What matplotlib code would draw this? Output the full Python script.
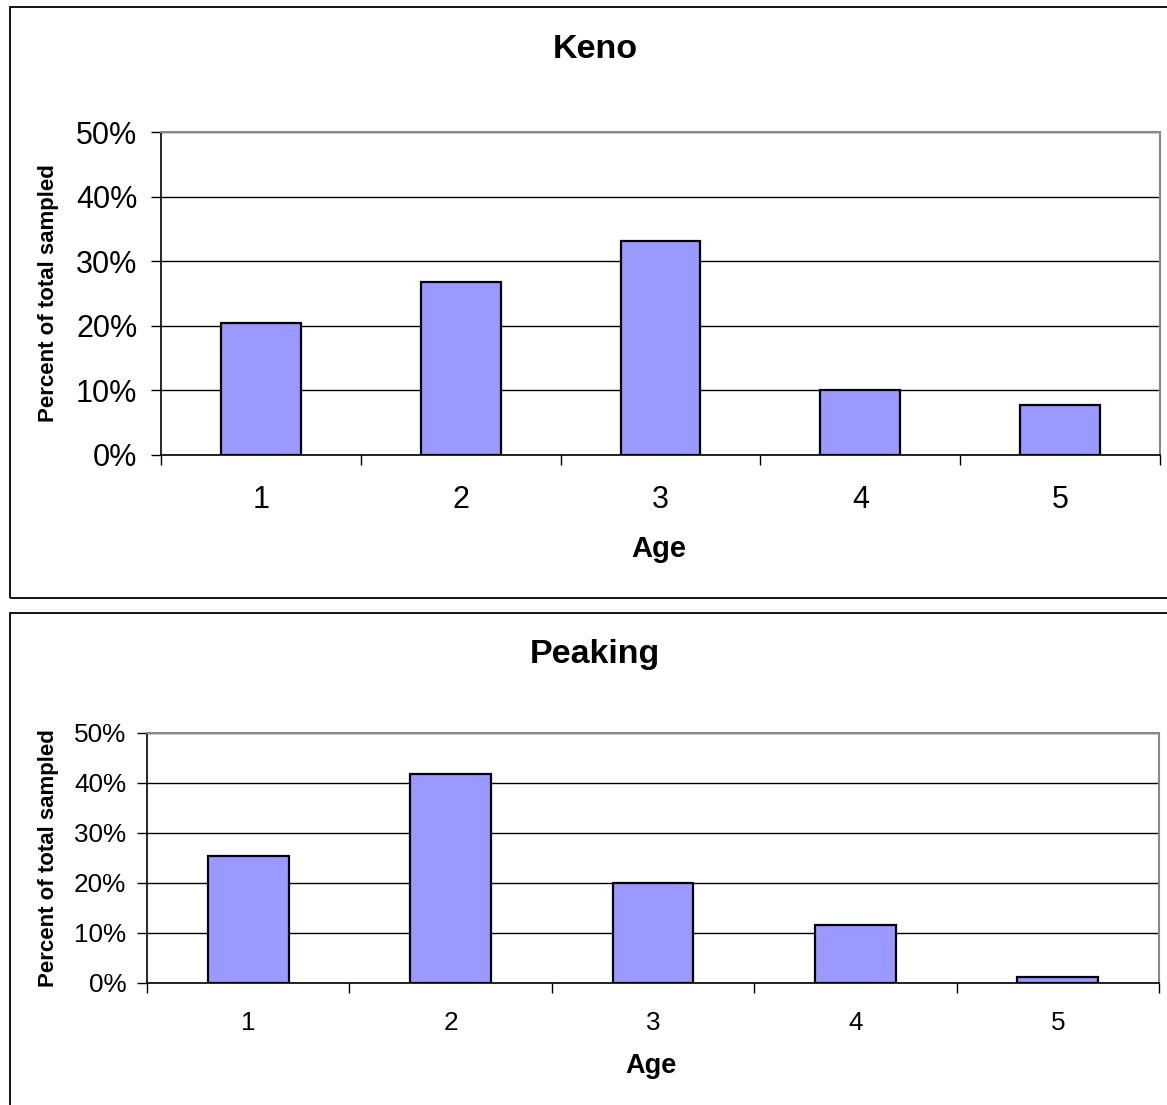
import matplotlib
matplotlib.use("Agg")
import matplotlib.pyplot as plt
from matplotlib.patches import Rectangle
from matplotlib.ticker import PercentFormatter

plt.rcParams['font.family'] = ['Liberation Sans', 'DejaVu Sans']

# values (percent of total sampled)
ages = [1, 2, 3, 4, 5]
keno_pct = [20.5, 26.8, 33.2, 10.1, 7.8]
peaking_pct = [25.4, 41.8, 20.0, 11.6, 1.2]
yticks = [0, 10, 20, 30, 40, 50]

W, H = 1167, 1105
fig = plt.figure(figsize=(W / 100, H / 100), dpi=100)


def fx(px):
    return px / W


def fy(py):
    return 1 - py / H


# outer chart frames (they run off the right / bottom edge)
fig.add_artist(Rectangle((fx(10), fy(598)), fx(1200 - 10), fy(7) - fy(598),
                         transform=fig.transFigure, fill=False, lw=1.3, ec='black'))
fig.add_artist(Rectangle((fx(10), fy(1130)), fx(1200 - 10), fy(613) - fy(1130),
                         transform=fig.transFigure, fill=False, lw=1.3, ec='black'))


def panel(rect, values, title, title_y, xlab_x, xlab_y, tick_fs, xlab_fs, xpad, ypad):
    l, t, r, b = rect
    ax = fig.add_axes([fx(l), fy(b), fx(r - l), fy(t) - fy(b)])
    ax.bar(ages, values, width=0.4, color='#9999FF', edgecolor='black',
           linewidth=1.6, zorder=3)
    ax.set_xlim(0.5, 5.5)
    ax.set_ylim(0, 50)
    ax.set_yticks(yticks)
    ax.yaxis.set_major_formatter(PercentFormatter(decimals=0))
    ax.set_xticks(ages)
    ax.set_xticks([a + 0.5 for a in [0] + ages], minor=True)
    ax.tick_params(axis='x', which='major', length=0, pad=xpad, labelsize=tick_fs)
    ax.tick_params(axis='x', which='minor', length=7, width=1, direction='out')
    ax.tick_params(axis='y', length=7, width=1, direction='out', pad=ypad,
                   labelsize=tick_fs)
    ax.grid(axis='y', color='black', lw=1, zorder=0)
    for s in ('top', 'right'):
        ax.spines[s].set_color('#888888')
        ax.spines[s].set_linewidth(1.5)
    for s in ('left', 'bottom'):
        ax.spines[s].set_color('black')
        ax.spines[s].set_linewidth(1.2)
    fig.text(fx(595), fy(title_y), title, ha='center', va='center',
             fontsize=24.5, fontweight='bold')
    fig.text(fx(xlab_x), fy(xlab_y), 'Age', ha='center', va='center',
             fontsize=xlab_fs, fontweight='bold')
    fig.text(fx(49), fy((t + b) / 2), 'Percent of total sampled', rotation=90,
             ha='center', va='center', fontsize=16, fontweight='bold')
    return ax


panel((161, 132, 1160, 455), keno_pct, 'Keno', 50, 659, 549, 22, 21, 21.5, 10)
panel((147, 733, 1159, 983), peaking_pct, 'Peaking', 655, 651, 1066, 18.8, 19.5, 20, 8)

fig.savefig('out.png', dpi=100, facecolor='white')
